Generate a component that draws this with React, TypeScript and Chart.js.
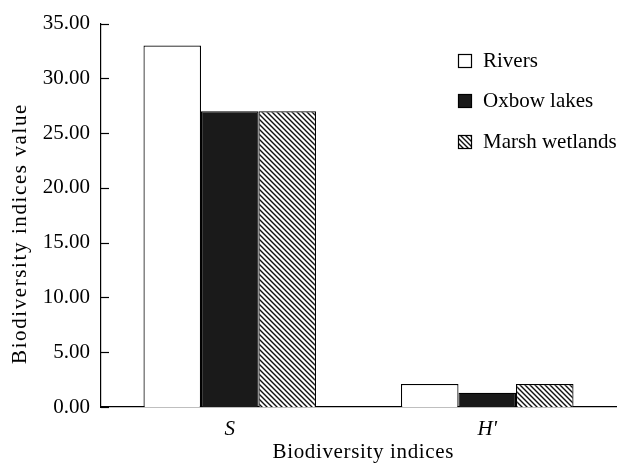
import React, { useEffect, useRef } from "react";
import { Chart, registerables } from "chart.js";

Chart.register(...registerables);

const categories = ["S", "H'"];
const seriesNames = ["Rivers", "Oxbow lakes", "Marsh wetlands"];
const riversValues = [33.0, 2.1];
const oxbowValues = [27.0, 1.3];
const marshValues = [27.0, 2.1];
const yTickValues = [0, 5, 10, 15, 20, 25, 30, 35];
const xTitle = "Biodiversity indices";
const yTitle = "Biodiversity indices value";

const FONT = "'Liberation Serif', 'Times New Roman', serif";

function makeHatch(): CanvasPattern | string {
  const s = 5;
  const c = document.createElement("canvas");
  c.width = s;
  c.height = s;
  const g = c.getContext("2d");
  if (!g) return "#888";
  g.fillStyle = "#fff";
  g.fillRect(0, 0, s, s);
  g.strokeStyle = "#111";
  g.lineWidth = 1.4;
  g.beginPath();
  g.moveTo(-1, -1);
  g.lineTo(s + 1, s + 1);
  g.moveTo(-1, s - 1);
  g.lineTo(1, s + 1);
  g.moveTo(s - 1, -1);
  g.lineTo(s + 1, 1);
  g.stroke();
  const p = g.createPattern(c, "repeat");
  return p || "#888";
}

function drawSpaced(ctx: CanvasRenderingContext2D, text: string, cx: number, y: number, spacing: number) {
  const chars = Array.from(text);
  const widths = chars.map((ch) => ctx.measureText(ch).width);
  const total = widths.reduce((a, b) => a + b, 0) + spacing * (chars.length - 1);
  let x = cx - total / 2;
  ctx.textAlign = "left";
  chars.forEach((ch, i) => {
    ctx.fillText(ch, x, y);
    x += widths[i] + spacing;
  });
}

export default function App() {
  const ref = useRef<HTMLCanvasElement | null>(null);

  useEffect(() => {
    if (!ref.current) return;
    const hatch = makeHatch();
    const fills: any[] = ["#ffffff", "#1a1a1a", hatch];

    const innerTicks = {
      id: "innerTicks",
      afterDraw(chart: any) {
        const ctx = chart.ctx;
        const ys = chart.scales.y;
        const left = chart.chartArea.left;
        ctx.save();
        ctx.strokeStyle = "#000";
        ctx.lineWidth = 1.2;
        yTickValues.forEach((v) => {
          const py = Math.round(ys.getPixelForValue(v)) + 0.5;
          ctx.beginPath();
          ctx.moveTo(left, py);
          ctx.lineTo(left + 8, py);
          ctx.stroke();
        });
        ctx.restore();
      },
    };

    const axisTitles = {
      id: "axisTitles",
      afterDraw(chart: any) {
        const ctx = chart.ctx;
        const area = chart.chartArea;
        ctx.save();
        ctx.fillStyle = "#000";
        ctx.font = `21px ${FONT}`;
        ctx.textBaseline = "alphabetic";
        drawSpaced(ctx, xTitle, (area.left + area.right) / 2 + 4.5, 458, 0.65);
        ctx.translate(26, (area.top + area.bottom) / 2 + 19);
        ctx.rotate(-Math.PI / 2);
        drawSpaced(ctx, yTitle, 0, 0, 1.6);
        ctx.restore();
      },
    };

    const customLegend = {
      id: "customLegend",
      afterDraw(chart: any) {
        const ctx = chart.ctx;
        ctx.save();
        ctx.font = `21px ${FONT}`;
        ctx.textBaseline = "middle";
        ctx.textAlign = "left";
        chart.data.datasets.forEach((ds: any, i: number) => {
          const cy = 60 + i * 40.5;
          const bx = 458;
          const by = Math.round(cy - 6.5);
          ctx.fillStyle = fills[i];
          ctx.fillRect(bx, by, 13, 13);
          ctx.strokeStyle = "#000";
          ctx.lineWidth = 1.2;
          ctx.strokeRect(bx + 0.5, by + 0.5, 13, 13);
          ctx.fillStyle = "#000";
          ctx.fillText(ds.label, 483, cy + 1);
        });
        ctx.restore();
      },
    };

    const chart = new Chart(ref.current, {
      type: "bar",
      data: {
        labels: categories,
        datasets: [
          { label: seriesNames[0], data: riversValues, backgroundColor: fills[0] },
          { label: seriesNames[1], data: oxbowValues, backgroundColor: fills[1] },
          { label: seriesNames[2], data: marshValues, backgroundColor: fills[2] },
        ].map((d) => ({
          ...d,
          borderColor: "#000",
          borderWidth: 1.2,
          borderSkipped: "bottom" as const,
          categoryPercentage: 0.67,
          barPercentage: 1.0,
        })),
      },
      options: {
        responsive: false,
        animation: false,
        layout: { padding: { top: 21, right: 4, left: 0, bottom: 0 } },
        plugins: {
          legend: { display: false },
          tooltip: { enabled: false },
        },
        scales: {
          x: {
            grid: { display: false, drawTicks: false },
            border: { display: true, color: "#000", width: 1.2 },
            ticks: {
              color: "#000",
              padding: 10,
              font: { family: FONT, size: 21, style: "italic" },
            },
            title: { display: false, text: xTitle },
            afterFit(scale: any) {
              scale.height = 57;
            },
          },
          y: {
            min: 0,
            max: 35,
            grid: { display: false, drawTicks: false },
            border: { display: true, color: "#000", width: 1.2 },
            ticks: {
              color: "#000",
              stepSize: 5,
              padding: 11,
              font: { family: FONT, size: 21 },
              callback: (v: any) => Number(v).toFixed(2),
            },
            title: { display: false, text: yTitle },
            afterFit(scale: any) {
              scale.width = 101;
            },
          },
        },
      },
      plugins: [innerTicks, axisTitles, customLegend],
    });
    return () => chart.destroy();
  }, []);

  return (
    <div style={{ position: "absolute", left: 0, top: 0, width: 620, height: 464, background: "#fff" }}>
      <canvas ref={ref} width={620} height={464} style={{ display: "block" }} />
    </div>
  );
}
